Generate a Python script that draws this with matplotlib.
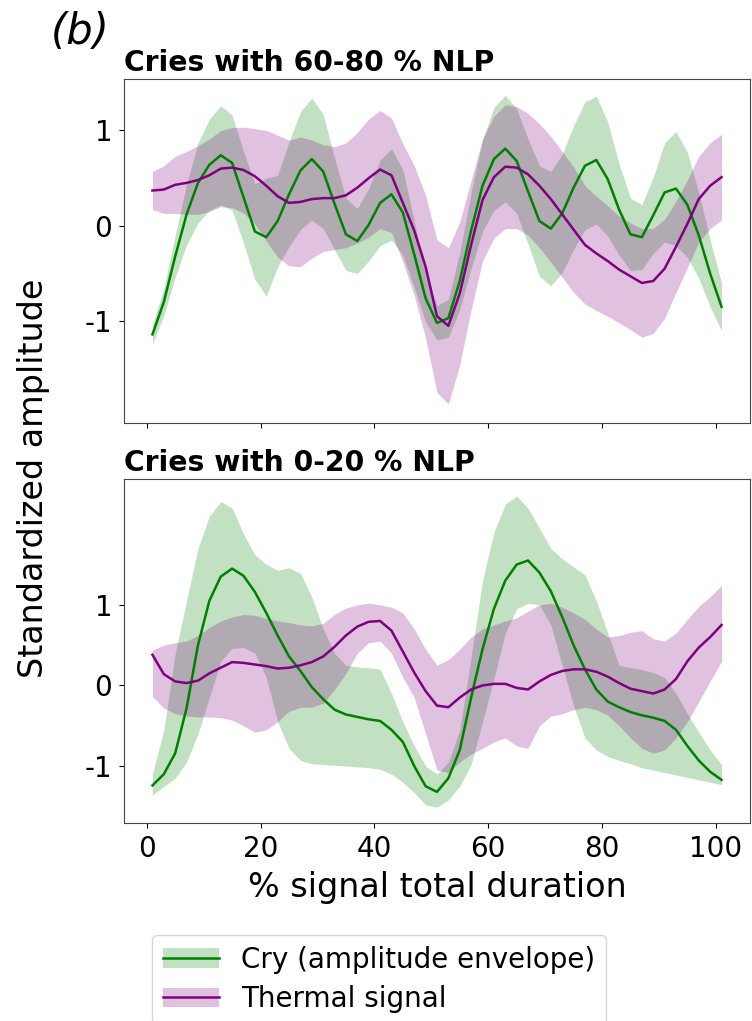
import numpy as np
import matplotlib
matplotlib.use("Agg")
import matplotlib.pyplot as plt
from matplotlib.patches import Patch
from matplotlib.lines import Line2D

plt.rcParams['axes.unicode_minus'] = False

# x positions (% of signal total duration)
x = np.arange(1, 102, 2)

# ---------- top panel: cries with 60-80 % NLP (mean and std) ----------
cry_top = [-1.14, -0.80, -0.32, 0.12, 0.45, 0.64, 0.74, 0.66, 0.30, -0.06,
           -0.12, 0.05, 0.33, 0.58, 0.70, 0.57, 0.23, -0.09, -0.16, 0.01,
           0.24, 0.33, 0.14, -0.30, -0.76, -1.02, -0.97, -0.58, -0.05, 0.42,
           0.70, 0.81, 0.68, 0.36, 0.05, -0.03, 0.13, 0.40, 0.63, 0.69,
           0.49, 0.17, -0.09, -0.12, 0.11, 0.35, 0.39, 0.22, -0.10, -0.50,
           -0.85]
cry_top_sd = [0.10, 0.14, 0.22, 0.32, 0.42, 0.48, 0.52, 0.50, 0.48, 0.50,
              0.62, 0.48, 0.55, 0.62, 0.64, 0.60, 0.48, 0.38, 0.34, 0.38,
              0.45, 0.48, 0.45, 0.35, 0.25, 0.18, 0.20, 0.30, 0.40, 0.48,
              0.54, 0.56, 0.55, 0.55, 0.58, 0.60, 0.62, 0.65, 0.67, 0.67,
              0.60, 0.48, 0.38, 0.34, 0.40, 0.52, 0.60, 0.55, 0.45, 0.35,
              0.25]
thermal_top = [0.37, 0.38, 0.43, 0.45, 0.48, 0.53, 0.60, 0.61, 0.585, 0.52,
               0.42, 0.31, 0.24, 0.25, 0.28, 0.29, 0.29, 0.32, 0.40, 0.50,
               0.59, 0.53, 0.24, -0.05, -0.43, -0.95, -1.05, -0.71, -0.20, 0.27,
               0.51, 0.62, 0.61, 0.54, 0.42, 0.28, 0.12, -0.04, -0.20, -0.29,
               -0.37, -0.46, -0.53, -0.60, -0.58, -0.45, -0.22, 0.02, 0.28, 0.42,
               0.51]
thermal_top_sd = [0.20, 0.25, 0.30, 0.33, 0.36, 0.38, 0.40, 0.42, 0.45, 0.50,
                  0.58, 0.64, 0.66, 0.68, 0.62, 0.56, 0.54, 0.55, 0.58, 0.62,
                  0.62, 0.60, 0.62, 0.68, 0.75, 0.80, 0.82, 0.75, 0.68, 0.64,
                  0.64, 0.65, 0.64, 0.64, 0.65, 0.66, 0.66, 0.66, 0.62, 0.60,
                  0.58, 0.56, 0.56, 0.57, 0.55, 0.52, 0.48, 0.46, 0.45, 0.45,
                  0.45]

# ---------- bottom panel: cries with 0-20 % NLP (mean, lower, upper) ----------
cry_bot = [-1.24, -1.10, -0.84, -0.28, 0.50, 1.05, 1.35, 1.45, 1.36, 1.16,
           0.90, 0.62, 0.36, 0.18, -0.02, -0.17, -0.30, -0.36, -0.39, -0.42,
           -0.44, -0.55, -0.70, -1.00, -1.25, -1.32, -1.15, -0.80, -0.15, 0.45,
           0.95, 1.30, 1.50, 1.55, 1.40, 1.17, 0.85, 0.50, 0.20, -0.05,
           -0.20, -0.27, -0.33, -0.37, -0.40, -0.44, -0.55, -0.75, -0.93, -1.07,
           -1.17]
cry_bot_hi = [-1.10, -0.55, 0.40, 1.05, 1.70, 2.10, 2.28, 2.20, 1.88, 1.62,
              1.50, 1.43, 1.46, 1.39, 1.10, 0.70, 0.40, 0.25, 0.23, 0.22,
              0.20, -0.10, -0.45, -0.75, -1.00, -1.10, -0.95, -0.55, 0.35, 1.30,
              1.90, 2.25, 2.35, 2.20, 1.95, 1.70, 1.57, 1.47, 1.37, 1.05,
              0.65, 0.25, 0.22, 0.20, 0.16, 0.10, -0.10, -0.35, -0.58, -0.80,
              -0.98]
cry_bot_lo = [-1.36, -1.25, -1.15, -0.95, -0.60, -0.15, 0.30, 0.46, 0.47, 0.40,
              0.10, -0.45, -0.78, -0.93, -0.97, -0.98, -0.99, -1.00, -1.01, -1.02,
              -1.04, -1.10, -1.20, -1.33, -1.48, -1.51, -1.42, -1.25, -0.98, -0.45,
              0.08, 0.65, 0.95, 1.02, 1.00, 0.75, 0.25, -0.25, -0.65, -0.80,
              -0.88, -0.93, -0.97, -1.02, -1.05, -1.08, -1.11, -1.14, -1.17, -1.20,
              -1.23]
thermal_bot = [0.38, 0.14, 0.05, 0.03, 0.06, 0.15, 0.22, 0.29, 0.28, 0.26,
               0.24, 0.21, 0.22, 0.25, 0.29, 0.36, 0.48, 0.62, 0.73, 0.79,
               0.80, 0.68, 0.42, 0.16, -0.07, -0.25, -0.27, -0.15, -0.05, 0.00,
               0.02, 0.02, -0.03, -0.05, 0.05, 0.13, 0.18, 0.20, 0.20, 0.17,
               0.11, 0.03, -0.04, -0.07, -0.10, -0.05, 0.08, 0.30, 0.47, 0.60,
               0.75]
thermal_bot_hi = [0.44, 0.50, 0.53, 0.55, 0.62, 0.72, 0.80, 0.85, 0.88, 0.87,
                  0.83, 0.80, 0.78, 0.75, 0.74, 0.77, 0.88, 0.96, 1.00, 1.02,
                  1.00, 0.97, 0.90, 0.70, 0.45, 0.25, 0.32, 0.45, 0.60, 0.70,
                  0.75, 0.80, 0.84, 0.92, 1.00, 1.02, 0.97, 0.90, 0.82, 0.70,
                  0.60, 0.62, 0.66, 0.68, 0.58, 0.55, 0.65, 0.82, 0.98, 1.10,
                  1.24]
thermal_bot_lo = [-0.14, -0.28, -0.35, -0.38, -0.39, -0.39, -0.40, -0.43, -0.50, -0.58,
                  -0.55, -0.45, -0.32, -0.27, -0.27, -0.22, -0.05, 0.15, 0.40, 0.53,
                  0.55, 0.40, 0.10, -0.15, -0.60, -1.05, -1.08, -0.95, -0.85, -0.78,
                  -0.70, -0.65, -0.75, -0.78, -0.50, -0.38, -0.35, -0.30, -0.27, -0.30,
                  -0.37, -0.50, -0.65, -0.78, -0.84, -0.80, -0.65, -0.45, -0.20, 0.05,
                  0.30]

cry_color = 'green'
thermal_color = 'purple'
band_alpha = 0.24

fig = plt.figure(figsize=(7.52, 10.21), dpi=100)
ax1 = fig.add_axes([0.1649, 0.5857, 0.8324, 0.3369])
ax2 = fig.add_axes([0.1649, 0.1936, 0.8324, 0.3372])

# Top panel
cry_top = np.array(cry_top)
cry_top_sd = np.array(cry_top_sd)
thermal_top = np.array(thermal_top)
thermal_top_sd = np.array(thermal_top_sd)
ax1.fill_between(x, cry_top - cry_top_sd, cry_top + cry_top_sd,
                 color=cry_color, alpha=band_alpha, lw=0)
ax1.fill_between(x, thermal_top - thermal_top_sd, thermal_top + thermal_top_sd,
                 color=thermal_color, alpha=band_alpha, lw=0)
ax1.plot(x, cry_top, color=cry_color, lw=1.8)
ax1.plot(x, thermal_top, color=thermal_color, lw=1.8)
ax1.set_ylim(-2.07, 1.54)
ax1.set_title("Cries with 60-80 % NLP", loc='left', fontsize=20.3,
              fontweight='bold', pad=6)
ax1.tick_params(labelbottom=False)

# Bottom panel
ax2.fill_between(x, cry_bot_lo, cry_bot_hi, color=cry_color, alpha=band_alpha, lw=0)
ax2.fill_between(x, thermal_bot_lo, thermal_bot_hi, color=thermal_color,
                 alpha=band_alpha, lw=0)
ax2.plot(x, cry_bot, color=cry_color, lw=1.8)
ax2.plot(x, thermal_bot, color=thermal_color, lw=1.8)
ax2.set_ylim(-1.71, 2.56)
ax2.set_title("Cries with 0-20 % NLP", loc='left', fontsize=20.3,
              fontweight='bold', pad=6)
ax2.set_xlabel("% signal total duration", fontsize=24, labelpad=6)

for ax in (ax1, ax2):
    ax.set_xlim(-4, 106)
    ax.set_xticks([0, 20, 40, 60, 80, 100])
    ax.set_yticks([-1, 0, 1])
    ax.tick_params(labelsize=20, pad=5)
    for sp in ax.spines.values():
        sp.set_color('#444444')

fig.text(0.045, 0.532, "Standardized amplitude", rotation=90, fontsize=24,
         ha='center', va='center')
fig.text(0.067, 0.969, "(b)", fontsize=30, style='italic', ha='left', va='center')

handles = [(Patch(facecolor=cry_color, alpha=band_alpha),
            Line2D([], [], color=cry_color, lw=1.8)),
           (Patch(facecolor=thermal_color, alpha=band_alpha),
            Line2D([], [], color=thermal_color, lw=1.8))]
fig.legend(handles, ["Cry (amplitude envelope)", "Thermal signal"],
           loc='upper center', bbox_to_anchor=(0.504, 0.098), fontsize=20,
           labelspacing=0.4)

fig.savefig("out.png", dpi=100)
